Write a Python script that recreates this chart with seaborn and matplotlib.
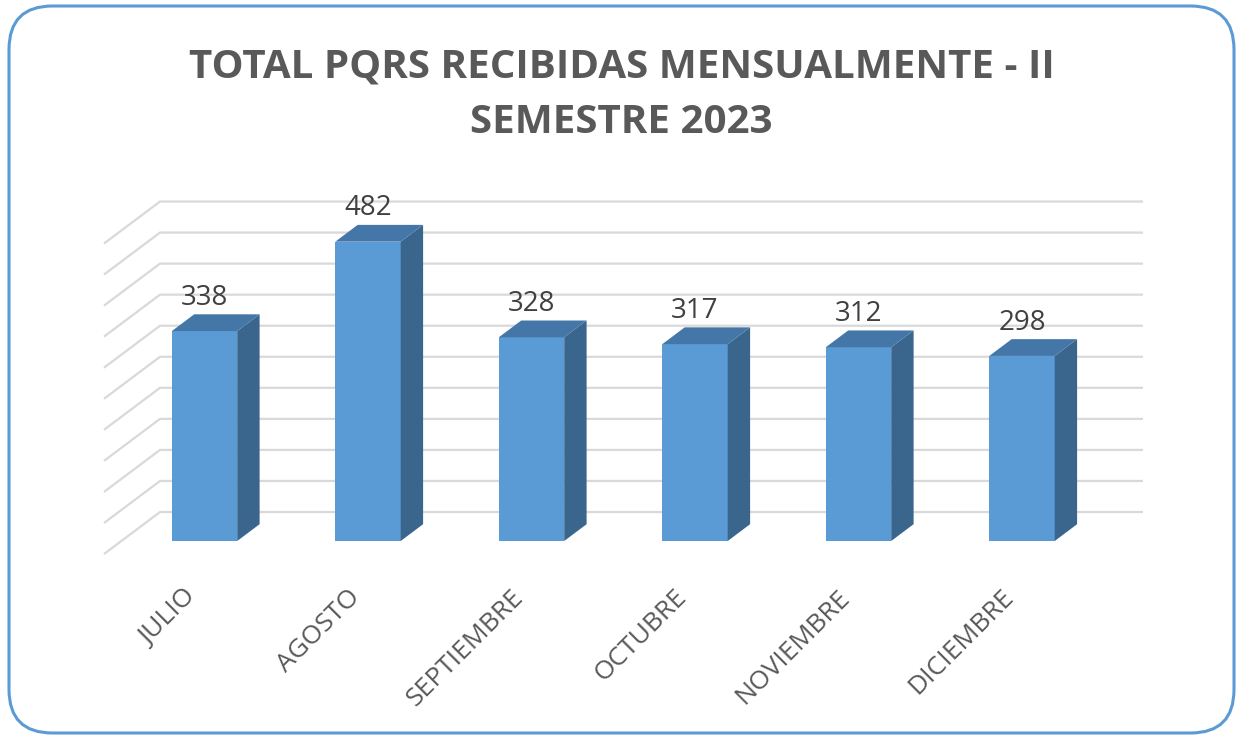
import numpy as np
import pandas as pd
import matplotlib
matplotlib.use('Agg')
import matplotlib.pyplot as plt
import matplotlib.transforms as mtrans
from matplotlib.patches import Polygon, FancyBboxPatch
import seaborn as sns

# data
meses = ['JULIO', 'AGOSTO', 'SEPTIEMBRE', 'OCTUBRE', 'NOVIEMBRE', 'DICIEMBRE']
totales = [338, 482, 328, 317, 312, 298]
y_ticks = [0, 50, 100, 150, 200, 250, 300, 350, 400, 450, 500]
titulo = 'TOTAL PQRS RECIBIDAS MENSUALMENTE - II\nSEMESTRE 2023'

df = pd.DataFrame({'mes': meses, 'total': totales})

sns.set_theme(style='white')
plt.rcParams['font.family'] = ['Open Sans', 'DejaVu Sans']

c_front = '#5b9bd5'
c_top = '#4477a8'
c_side = '#3a658c'
c_grid = '#d9d9d9'
c_text = '#595959'

W, H = 1243, 741
fig = plt.figure(figsize=(W / 100, H / 100), dpi=100)

# axes placed in pixels so the oblique projection stays simple
ax_l, ax_r, ax_t, ax_b = 90, 1160, 180, 582
ax = fig.add_axes([ax_l / W, 1 - ax_b / H, (ax_r - ax_l) / W, (ax_b - ax_t) / H])
px_x = 163.5   # px per category
px_y = 0.621   # px per unit
x0, y0 = 204.5, 541

# depth vector (floor front -> back wall) in data units
dep_x = 56 / px_x
dep_y = 42 / px_y
t_front, t_bar = 0.31, 0.40   # bar front position and bar depth as fractions
wall_right = (1143 - x0) / px_x
floor_left = (104 - x0) / px_x

bw = 0.40
sns.barplot(data=df, x='mes', y='total', color=c_front, width=bw,
            saturation=1, ax=ax, zorder=3, linewidth=0)

# back wall gridlines + left wall diagonals
for v in y_ticks:
    fx, fy = floor_left, v - t_front * dep_y
    bx, by = floor_left + dep_x, v + (1 - t_front) * dep_y
    ax.plot([fx, bx, wall_right], [fy, by, by], color=c_grid, lw=1.6,
            solid_capstyle='butt', zorder=0)

bdx, bdy = t_bar * dep_x, t_bar * dep_y
for i, v in enumerate(totales):
    xl, xr = i - bw / 2, i + bw / 2
    side = Polygon([(xr, 0), (xr + bdx, bdy), (xr + bdx, v + bdy), (xr, v)],
                   closed=True, fc=c_side, ec='none', zorder=3)
    top = Polygon([(xl, v), (xl + bdx, v + bdy), (xr + bdx, v + bdy), (xr, v)],
                  closed=True, fc=c_top, ec='none', zorder=3)
    ax.add_patch(side)
    ax.add_patch(top)
    ax.text(i, v + bdy + 4, str(v), ha='center', va='bottom',
            fontsize=20, color='#404040', zorder=4)

ax.set_xlim((ax_l - x0) / px_x, (ax_r - x0) / px_x)
ax.set_ylim((y0 - ax_b) / px_y, (y0 - ax_t) / px_y)

ax.set_xlabel('')
ax.set_ylabel('')
ax.set_yticks([])
ax.tick_params(axis='x', length=0, pad=2)
ax.set_xticks(range(len(meses)))
ax.set_xticklabels(meses, rotation=45, ha='right', rotation_mode='anchor',
                   fontsize=19, color=c_text)
shift = mtrans.ScaledTranslation(-21 / 100, 0, fig.dpi_scale_trans)
for lab in ax.get_xticklabels():
    lab.set_transform(lab.get_transform() + shift)
for s in ax.spines.values():
    s.set_visible(False)
ax.patch.set_alpha(0)

fig.text(0.5, 1 - 95 / H, titulo, ha='center', va='center', fontsize=29,
         fontweight='bold', color=c_text, linespacing=1.55)

frame = FancyBboxPatch((9 / W, 8 / H), (W - 18) / W, (H - 14) / H,
                       boxstyle='round,pad=0,rounding_size=0.035',
                       transform=fig.transFigure, fc='none', ec='#5b9bd5',
                       lw=2.2, mutation_aspect=W / H)
fig.patches.append(frame)

plt.savefig('out.png', dpi=100)
